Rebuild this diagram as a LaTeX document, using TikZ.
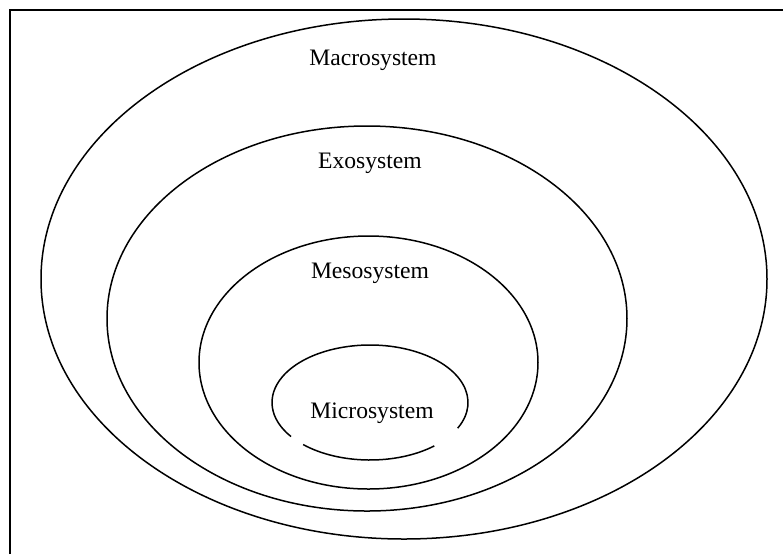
\documentclass[tikz,border=0pt]{standalone}
\usepackage{fontspec}
\setmainfont{Liberation Serif}
\usetikzlibrary{positioning}
\tikzset{
        every node/.style={align=center,outer sep=1.5pt,font=\fontsize{11.8}{14}\selectfont},
        every path/.style={line width=0.75pt},
        }

\begin{document}
\begin{tikzpicture}[x=0.5pt,y=-0.5pt]

			\useasboundingbox (0,0) rectangle (783,554);

			% frame.....................
			\draw [line width=1pt] (10,554) to (10,10) to (783,10);

			% macrosystem...................
			\draw (404,279) ellipse [x radius=363, y radius=260];
			\node (macro) at (373,60) {Macrosystem};

			% exosystem...................
			\draw (367,318.5) ellipse [x radius=260, y radius=192.5];
			\node (exo) at (370,163) {Exosystem};

			% mesosystem...................
			\draw (368.5,362.5) ellipse [x radius=169.5, y radius=126.5];
			\node (meso) at (370,273) {Mesosystem};

			% microsystem, open at the bottom.............
			\draw (370,402.5) ++(-26.5:98 and -57.5) arc [start angle=-26.5, end angle=216.3, x radius=98, y radius=-57.5];
			\draw (370,402.5) ++(227:98 and -57.5) arc [start angle=227, end angle=311, x radius=98, y radius=-57.5];
			\node (micro) at (372,413) {Microsystem};
		\end{tikzpicture}
\end{document}
